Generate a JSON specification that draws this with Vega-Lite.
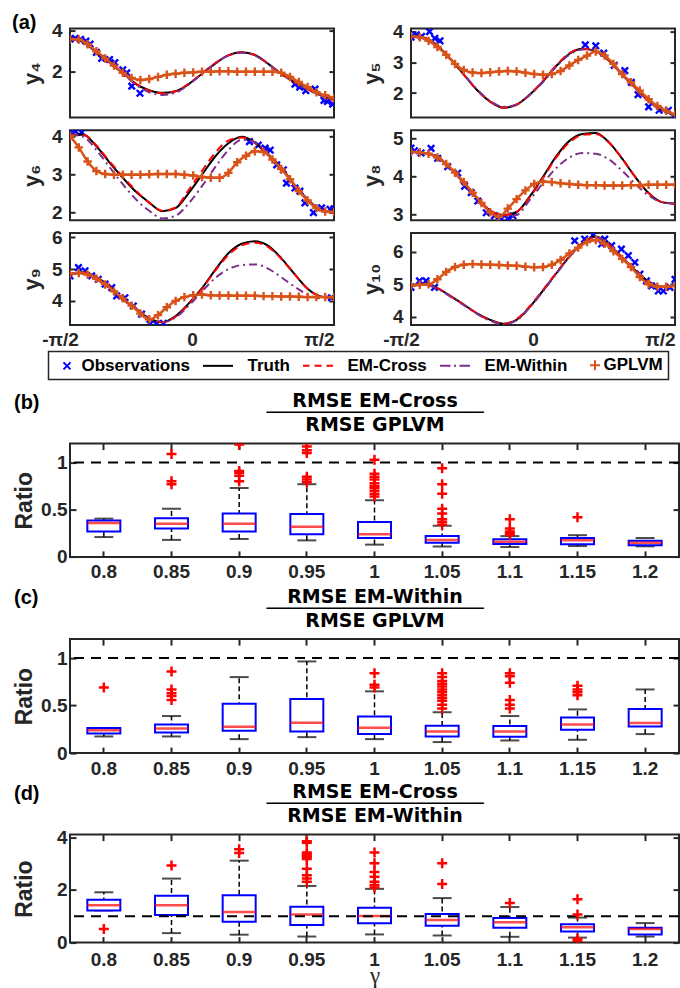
{
"$schema": "https://vega.github.io/schema/vega-lite/v6.json",
"background": "white",
"padding": {"left": 11, "top": 11.6, "right": 0, "bottom": 0},
"spacing": 40,
"vconcat": [
{"spacing": 24, "hconcat": [
 {"bounds": "flush", "spacing": 12.7, "vconcat": [
  {"width": 264, "height": 89,
   "title": {"text": "(a)", "anchor": "start", "frame": "bounds", "offset": -27, "dx": -8, "baseline": "alphabetic", "fontSize": 20},
   "layer": [
    {"data": {"name": "obs"}, "transform": [{"filter": "datum.p == 'y4'"}], "mark": {"type": "point", "shape": "M-1,-1L1,1M-1,1L1,-1", "filled": false, "color": "#0000FF", "strokeWidth": 2.4, "size": 42, "opacity": 1, "clip": true},
     "encoding": {"x": {"field": "x", "type": "quantitative", "scale": {"domain": [-1.5708, 1.5708], "nice": false, "zero": false}, "axis": null},
      "y": {"field": "v", "type": "quantitative", "scale": {"domain": [-0.24, 4.11], "nice": false, "zero": false}, "axis": {"orient": "left", "values": [2, 4], "format": "d", "title": "y₄", "tickSize": -5, "labelPadding": 13, "minExtent": 19, "maxExtent": 19, "titlePadding": 8}}}},
    {"data": {"name": "curves"}, "transform": [{"filter": "datum.p == 'y4'"}], "mark": {"type": "line", "color": "#000000", "strokeWidth": 2, "interpolate": "monotone", "clip": true},
     "encoding": {"x": {"field": "x", "type": "quantitative", "axis": null}, "y": {"field": "truth", "type": "quantitative", "axis": null}}},
    {"data": {"name": "curves"}, "transform": [{"filter": "datum.p == 'y4'"}], "mark": {"type": "line", "color": "#FF0000", "strokeWidth": 2, "strokeDash": [8, 5], "interpolate": "monotone", "clip": true},
     "encoding": {"x": {"field": "x", "type": "quantitative", "axis": null}, "y": {"field": "cross", "type": "quantitative", "axis": {"orient": "right", "values": [2, 4], "labels": false, "title": null, "tickSize": -5}}}},
    {"data": {"name": "curves"}, "transform": [{"filter": "datum.p == 'y4'"}], "mark": {"type": "line", "color": "#7E2F8E", "strokeWidth": 2, "strokeDash": [8, 4, 2, 4], "interpolate": "monotone", "clip": true},
     "encoding": {"x": {"field": "x", "type": "quantitative", "axis": null}, "y": {"field": "within", "type": "quantitative", "axis": null}}},
    {"data": {"name": "gp"}, "transform": [{"filter": "datum.p == 'y4'"}], "mark": {"type": "line", "color": "#D95319", "strokeWidth": 2.5, "interpolate": "monotone", "clip": true},
     "encoding": {"x": {"field": "x", "type": "quantitative", "axis": null}, "y": {"field": "v", "type": "quantitative", "axis": null}}},
    {"data": {"name": "gp"}, "transform": [{"filter": "datum.p == 'y4'"}], "mark": {"type": "point", "shape": "M-1,0H1M0,-1V1", "filled": false, "color": "#D95319", "strokeWidth": 2.4, "size": 72, "opacity": 1, "clip": true},
     "encoding": {"x": {"field": "x", "type": "quantitative", "axis": null}, "y": {"field": "v", "type": "quantitative", "axis": null}}}
   ],
   "resolve": {"axis": {"y": "independent"}}},
  {"width": 264, "height": 90,
   "layer": [
    {"data": {"name": "obs"}, "transform": [{"filter": "datum.p == 'y6'"}], "mark": {"type": "point", "shape": "M-1,-1L1,1M-1,1L1,-1", "filled": false, "color": "#0000FF", "strokeWidth": 2.4, "size": 42, "opacity": 1, "clip": true},
     "encoding": {"x": {"field": "x", "type": "quantitative", "scale": {"domain": [-1.5708, 1.5708], "nice": false, "zero": false}, "axis": null},
      "y": {"field": "v", "type": "quantitative", "scale": {"domain": [1.8, 4.17], "nice": false, "zero": false}, "axis": {"orient": "left", "values": [2, 3, 4], "format": "d", "title": "y₆", "tickSize": -5, "labelPadding": 13, "minExtent": 19, "maxExtent": 19, "titlePadding": 8}}}},
    {"data": {"name": "curves"}, "transform": [{"filter": "datum.p == 'y6'"}], "mark": {"type": "line", "color": "#000000", "strokeWidth": 2, "interpolate": "monotone", "clip": true},
     "encoding": {"x": {"field": "x", "type": "quantitative", "axis": null}, "y": {"field": "truth", "type": "quantitative", "axis": null}}},
    {"data": {"name": "curves"}, "transform": [{"filter": "datum.p == 'y6'"}], "mark": {"type": "line", "color": "#FF0000", "strokeWidth": 2, "strokeDash": [8, 5], "interpolate": "monotone", "clip": true},
     "encoding": {"x": {"field": "x", "type": "quantitative", "axis": null}, "y": {"field": "cross", "type": "quantitative", "axis": {"orient": "right", "values": [2, 3, 4], "labels": false, "title": null, "tickSize": -5}}}},
    {"data": {"name": "curves"}, "transform": [{"filter": "datum.p == 'y6'"}], "mark": {"type": "line", "color": "#7E2F8E", "strokeWidth": 2, "strokeDash": [8, 4, 2, 4], "interpolate": "monotone", "clip": true},
     "encoding": {"x": {"field": "x", "type": "quantitative", "axis": null}, "y": {"field": "within", "type": "quantitative", "axis": null}}},
    {"data": {"name": "gp"}, "transform": [{"filter": "datum.p == 'y6'"}], "mark": {"type": "line", "color": "#D95319", "strokeWidth": 2.5, "interpolate": "monotone", "clip": true},
     "encoding": {"x": {"field": "x", "type": "quantitative", "axis": null}, "y": {"field": "v", "type": "quantitative", "axis": null}}},
    {"data": {"name": "gp"}, "transform": [{"filter": "datum.p == 'y6'"}], "mark": {"type": "point", "shape": "M-1,0H1M0,-1V1", "filled": false, "color": "#D95319", "strokeWidth": 2.4, "size": 72, "opacity": 1, "clip": true},
     "encoding": {"x": {"field": "x", "type": "quantitative", "axis": null}, "y": {"field": "v", "type": "quantitative", "axis": null}}}
   ],
   "resolve": {"axis": {"y": "independent"}}},
  {"width": 264, "height": 92,
   "layer": [
    {"data": {"name": "obs"}, "transform": [{"filter": "datum.p == 'y9'"}], "mark": {"type": "point", "shape": "M-1,-1L1,1M-1,1L1,-1", "filled": false, "color": "#0000FF", "strokeWidth": 2.4, "size": 42, "opacity": 1, "clip": true},
     "encoding": {"x": {"field": "x", "type": "quantitative", "scale": {"domain": [-1.5708, 1.5708], "nice": false, "zero": false}, "axis": {"values": [-1.5708, 0, 1.5708], "labelExpr": "datum.value < -1 ? '-π/2' : (datum.value > 1 ? 'π/2' : '0')", "ticks": false, "labelPadding": 5.5, "labelOffset": {"condition": {"test": "datum.value > 1", "value": -15}, "value": -10}, "labelFlush": false, "title": null}},
      "y": {"field": "v", "type": "quantitative", "scale": {"domain": [3.24, 6.14], "nice": false, "zero": false}, "axis": {"orient": "left", "values": [4, 5, 6], "format": "d", "title": "y₉", "tickSize": -5, "labelPadding": 13, "minExtent": 19, "maxExtent": 19, "titlePadding": 8}}}},
    {"data": {"name": "curves"}, "transform": [{"filter": "datum.p == 'y9'"}], "mark": {"type": "line", "color": "#000000", "strokeWidth": 2, "interpolate": "monotone", "clip": true},
     "encoding": {"x": {"field": "x", "type": "quantitative"}, "y": {"field": "truth", "type": "quantitative", "axis": null}}},
    {"data": {"name": "curves"}, "transform": [{"filter": "datum.p == 'y9'"}], "mark": {"type": "line", "color": "#FF0000", "strokeWidth": 2, "strokeDash": [8, 5], "interpolate": "monotone", "clip": true},
     "encoding": {"x": {"field": "x", "type": "quantitative"}, "y": {"field": "cross", "type": "quantitative", "axis": {"orient": "right", "values": [4, 5, 6], "labels": false, "title": null, "tickSize": -5}}}},
    {"data": {"name": "curves"}, "transform": [{"filter": "datum.p == 'y9'"}], "mark": {"type": "line", "color": "#7E2F8E", "strokeWidth": 2, "strokeDash": [8, 4, 2, 4], "interpolate": "monotone", "clip": true},
     "encoding": {"x": {"field": "x", "type": "quantitative"}, "y": {"field": "within", "type": "quantitative", "axis": null}}},
    {"data": {"name": "gp"}, "transform": [{"filter": "datum.p == 'y9'"}], "mark": {"type": "line", "color": "#D95319", "strokeWidth": 2.5, "interpolate": "monotone", "clip": true},
     "encoding": {"x": {"field": "x", "type": "quantitative"}, "y": {"field": "v", "type": "quantitative", "axis": null}}},
    {"data": {"name": "gp"}, "transform": [{"filter": "datum.p == 'y9'"}], "mark": {"type": "point", "shape": "M-1,0H1M0,-1V1", "filled": false, "color": "#D95319", "strokeWidth": 2.4, "size": 72, "opacity": 1, "clip": true},
     "encoding": {"x": {"field": "x", "type": "quantitative"}, "y": {"field": "v", "type": "quantitative", "axis": null}}},
    {"data": {"name": "leg"}, "mark": {"type": "point", "opacity": 0, "filled": false},
     "encoding": {
      "color": {"field": "s", "type": "nominal", "scale": {"domain": ["Observations", "Truth", "EM-Cross", "EM-Within", "GPLVM"], "range": ["#0000FF", "#000000", "#FF0000", "#7E2F8E", "#D95319"]},
        "legend": {"orient": "none", "legendX": -21.5, "legendY": 323, "direction": "horizontal", "columns": 5, "title": null, "symbolSize": 100, "symbolStrokeWidth": 2, "symbolOpacity": 1, "labelFontSize": 17, "labelFont": "Liberation Sans", "labelFontWeight": "bold", "labelColor": "#000000", "labelOffset": 11, "columnPadding": 8, "padding": 5, "strokeColor": "#262626", "fillColor": "#ffffff"}},
      "shape": {"field": "s", "type": "nominal", "scale": {"domain": ["Observations", "Truth", "EM-Cross", "EM-Within", "GPLVM"], "range": ["M0.3,-0.7L1.7,0.7M0.3,0.7L1.7,-0.7", "M-5,0H1", "M-5,0H-3.7M-2.7,0H-1.3M-0.3,0H1", "M-5,0H-2.9M-2.2,0H-1.8M-1.1,0H1", "M1.2,0H3.2M2.2,-1V1"]},
        "legend": {"orient": "none", "legendX": -21.5, "legendY": 323, "direction": "horizontal", "columns": 5, "title": null, "symbolSize": 100, "symbolStrokeWidth": 2, "symbolOpacity": 1, "labelFontSize": 17, "labelFont": "Liberation Sans", "labelFontWeight": "bold", "labelColor": "#000000", "labelOffset": 11, "columnPadding": 8, "padding": 5, "strokeColor": "#262626", "fillColor": "#ffffff"}}
     }}
   ],
   "resolve": {"axis": {"y": "independent"}}}
 ]},
 {"bounds": "flush", "spacing": 12.7, "vconcat": [
  {"width": 264, "height": 89,
   "layer": [
    {"data": {"name": "obs"}, "transform": [{"filter": "datum.p == 'y5'"}], "mark": {"type": "point", "shape": "M-1,-1L1,1M-1,1L1,-1", "filled": false, "color": "#0000FF", "strokeWidth": 2.4, "size": 42, "opacity": 1, "clip": true},
     "encoding": {"x": {"field": "x", "type": "quantitative", "scale": {"domain": [-1.5708, 1.5708], "nice": false, "zero": false}, "axis": null},
      "y": {"field": "v", "type": "quantitative", "scale": {"domain": [1.2, 4.1], "nice": false, "zero": false}, "axis": {"orient": "left", "values": [2, 3, 4], "format": "d", "title": "y₅", "tickSize": -5, "labelPadding": 13, "minExtent": 19, "maxExtent": 19, "titlePadding": 8}}}},
    {"data": {"name": "curves"}, "transform": [{"filter": "datum.p == 'y5'"}], "mark": {"type": "line", "color": "#000000", "strokeWidth": 2, "interpolate": "monotone", "clip": true},
     "encoding": {"x": {"field": "x", "type": "quantitative", "axis": null}, "y": {"field": "truth", "type": "quantitative", "axis": null}}},
    {"data": {"name": "curves"}, "transform": [{"filter": "datum.p == 'y5'"}], "mark": {"type": "line", "color": "#FF0000", "strokeWidth": 2, "strokeDash": [8, 5], "interpolate": "monotone", "clip": true},
     "encoding": {"x": {"field": "x", "type": "quantitative", "axis": null}, "y": {"field": "cross", "type": "quantitative", "axis": {"orient": "right", "values": [2, 3, 4], "labels": false, "title": null, "tickSize": -5}}}},
    {"data": {"name": "curves"}, "transform": [{"filter": "datum.p == 'y5'"}], "mark": {"type": "line", "color": "#7E2F8E", "strokeWidth": 2, "strokeDash": [8, 4, 2, 4], "interpolate": "monotone", "clip": true},
     "encoding": {"x": {"field": "x", "type": "quantitative", "axis": null}, "y": {"field": "within", "type": "quantitative", "axis": null}}},
    {"data": {"name": "gp"}, "transform": [{"filter": "datum.p == 'y5'"}], "mark": {"type": "line", "color": "#D95319", "strokeWidth": 2.5, "interpolate": "monotone", "clip": true},
     "encoding": {"x": {"field": "x", "type": "quantitative", "axis": null}, "y": {"field": "v", "type": "quantitative", "axis": null}}},
    {"data": {"name": "gp"}, "transform": [{"filter": "datum.p == 'y5'"}], "mark": {"type": "point", "shape": "M-1,0H1M0,-1V1", "filled": false, "color": "#D95319", "strokeWidth": 2.4, "size": 72, "opacity": 1, "clip": true},
     "encoding": {"x": {"field": "x", "type": "quantitative", "axis": null}, "y": {"field": "v", "type": "quantitative", "axis": null}}}
   ],
   "resolve": {"axis": {"y": "independent"}}},
  {"width": 264, "height": 90,
   "layer": [
    {"data": {"name": "obs"}, "transform": [{"filter": "datum.p == 'y8'"}], "mark": {"type": "point", "shape": "M-1,-1L1,1M-1,1L1,-1", "filled": false, "color": "#0000FF", "strokeWidth": 2.4, "size": 42, "opacity": 1, "clip": true},
     "encoding": {"x": {"field": "x", "type": "quantitative", "scale": {"domain": [-1.5708, 1.5708], "nice": false, "zero": false}, "axis": null},
      "y": {"field": "v", "type": "quantitative", "scale": {"domain": [2.84, 5.22], "nice": false, "zero": false}, "axis": {"orient": "left", "values": [3, 4, 5], "format": "d", "title": "y₈", "tickSize": -5, "labelPadding": 13, "minExtent": 19, "maxExtent": 19, "titlePadding": 8}}}},
    {"data": {"name": "curves"}, "transform": [{"filter": "datum.p == 'y8'"}], "mark": {"type": "line", "color": "#000000", "strokeWidth": 2, "interpolate": "monotone", "clip": true},
     "encoding": {"x": {"field": "x", "type": "quantitative", "axis": null}, "y": {"field": "truth", "type": "quantitative", "axis": null}}},
    {"data": {"name": "curves"}, "transform": [{"filter": "datum.p == 'y8'"}], "mark": {"type": "line", "color": "#FF0000", "strokeWidth": 2, "strokeDash": [8, 5], "interpolate": "monotone", "clip": true},
     "encoding": {"x": {"field": "x", "type": "quantitative", "axis": null}, "y": {"field": "cross", "type": "quantitative", "axis": {"orient": "right", "values": [3, 4, 5], "labels": false, "title": null, "tickSize": -5}}}},
    {"data": {"name": "curves"}, "transform": [{"filter": "datum.p == 'y8'"}], "mark": {"type": "line", "color": "#7E2F8E", "strokeWidth": 2, "strokeDash": [8, 4, 2, 4], "interpolate": "monotone", "clip": true},
     "encoding": {"x": {"field": "x", "type": "quantitative", "axis": null}, "y": {"field": "within", "type": "quantitative", "axis": null}}},
    {"data": {"name": "gp"}, "transform": [{"filter": "datum.p == 'y8'"}], "mark": {"type": "line", "color": "#D95319", "strokeWidth": 2.5, "interpolate": "monotone", "clip": true},
     "encoding": {"x": {"field": "x", "type": "quantitative", "axis": null}, "y": {"field": "v", "type": "quantitative", "axis": null}}},
    {"data": {"name": "gp"}, "transform": [{"filter": "datum.p == 'y8'"}], "mark": {"type": "point", "shape": "M-1,0H1M0,-1V1", "filled": false, "color": "#D95319", "strokeWidth": 2.4, "size": 72, "opacity": 1, "clip": true},
     "encoding": {"x": {"field": "x", "type": "quantitative", "axis": null}, "y": {"field": "v", "type": "quantitative", "axis": null}}}
   ],
   "resolve": {"axis": {"y": "independent"}}},
  {"width": 264, "height": 92,
   "layer": [
    {"data": {"name": "obs"}, "transform": [{"filter": "datum.p == 'y10'"}], "mark": {"type": "point", "shape": "M-1,-1L1,1M-1,1L1,-1", "filled": false, "color": "#0000FF", "strokeWidth": 2.4, "size": 42, "opacity": 1, "clip": true},
     "encoding": {"x": {"field": "x", "type": "quantitative", "scale": {"domain": [-1.5708, 1.5708], "nice": false, "zero": false}, "axis": {"values": [-1.5708, 0, 1.5708], "labelExpr": "datum.value < -1 ? '-π/2' : (datum.value > 1 ? 'π/2' : '0')", "ticks": false, "labelPadding": 5.5, "labelOffset": {"condition": {"test": "datum.value > 1", "value": -15}, "value": -10}, "labelFlush": false, "title": null}},
      "y": {"field": "v", "type": "quantitative", "scale": {"domain": [3.74, 6.58], "nice": false, "zero": false}, "axis": {"orient": "left", "values": [4, 5, 6], "format": "d", "title": "y₁₀", "tickSize": -5, "labelPadding": 13, "minExtent": 19, "maxExtent": 19, "titlePadding": 8}}}},
    {"data": {"name": "curves"}, "transform": [{"filter": "datum.p == 'y10'"}], "mark": {"type": "line", "color": "#000000", "strokeWidth": 2, "interpolate": "monotone", "clip": true},
     "encoding": {"x": {"field": "x", "type": "quantitative"}, "y": {"field": "truth", "type": "quantitative", "axis": null}}},
    {"data": {"name": "curves"}, "transform": [{"filter": "datum.p == 'y10'"}], "mark": {"type": "line", "color": "#FF0000", "strokeWidth": 2, "strokeDash": [8, 5], "interpolate": "monotone", "clip": true},
     "encoding": {"x": {"field": "x", "type": "quantitative"}, "y": {"field": "cross", "type": "quantitative", "axis": {"orient": "right", "values": [4, 5, 6], "labels": false, "title": null, "tickSize": -5}}}},
    {"data": {"name": "curves"}, "transform": [{"filter": "datum.p == 'y10'"}], "mark": {"type": "line", "color": "#7E2F8E", "strokeWidth": 2, "strokeDash": [8, 4, 2, 4], "interpolate": "monotone", "clip": true},
     "encoding": {"x": {"field": "x", "type": "quantitative"}, "y": {"field": "within", "type": "quantitative", "axis": null}}},
    {"data": {"name": "gp"}, "transform": [{"filter": "datum.p == 'y10'"}], "mark": {"type": "line", "color": "#D95319", "strokeWidth": 2.5, "interpolate": "monotone", "clip": true},
     "encoding": {"x": {"field": "x", "type": "quantitative"}, "y": {"field": "v", "type": "quantitative", "axis": null}}},
    {"data": {"name": "gp"}, "transform": [{"filter": "datum.p == 'y10'"}], "mark": {"type": "point", "shape": "M-1,0H1M0,-1V1", "filled": false, "color": "#D95319", "strokeWidth": 2.4, "size": 72, "opacity": 1, "clip": true},
     "encoding": {"x": {"field": "x", "type": "quantitative"}, "y": {"field": "v", "type": "quantitative", "axis": null}}}
   ],
   "resolve": {"axis": {"y": "independent"}}}
 ]}
]},
{"bounds": "flush", "spacing": 81.5, "vconcat": [
 {"width": 609, "height": 113.3,
  "title": {"text": "(b)", "anchor": "start", "frame": "bounds", "offset": -37, "dx": 1, "baseline": "alphabetic", "fontSize": 20},
  "layer": [
   {"data": {"name": "box"}, "transform": [{"filter": "datum.panel == 'b'"}], "mark": {"type": "rule", "color": "#000000", "strokeWidth": 1.5, "strokeDash": [5, 3]},
    "encoding": {"x": {"field": "g", "type": "ordinal", "scale": {"type": "band", "domain": ["0.8", "0.85", "0.9", "0.95", "1", "1.05", "1.1", "1.15", "1.2"], "paddingInner": 0, "paddingOuter": 0}, "axis": {"orient": "bottom", "labelAngle": 0, "tickSize": -6, "labelPadding": 12, "title": null}},
     "y": {"field": "lo", "type": "quantitative", "scale": {"domain": [0, 1.2], "nice": false, "zero": false}, "axis": {"orient": "left", "values": [0, 0.5, 1], "format": "~g", "tickSize": -6, "labelPadding": 9, "title": "Ratio", "titleFontSize": 23, "minExtent": 38, "maxExtent": 38, "titlePadding": -4}},
     "y2": {"field": "hi"}}},
   {"data": {"name": "box"}, "transform": [{"filter": "datum.panel == 'b'"}], "mark": {"type": "tick", "color": "#000000", "size": 19, "thickness": 2},
    "encoding": {"x": {"field": "g", "type": "ordinal", "axis": null}, "y": {"field": "lo", "type": "quantitative", "axis": null}}},
   {"data": {"name": "box"}, "transform": [{"filter": "datum.panel == 'b'"}], "mark": {"type": "tick", "color": "#000000", "size": 19, "thickness": 2},
    "encoding": {"x": {"field": "g", "type": "ordinal", "axis": null}, "y": {"field": "hi", "type": "quantitative", "axis": null}}},
   {"data": {"name": "box"}, "transform": [{"filter": "datum.panel == 'b'"}], "mark": {"type": "bar", "fill": "#ffffff", "stroke": "#0000FF", "strokeWidth": 2, "width": 33},
    "encoding": {"x": {"field": "g", "type": "ordinal", "axis": null}, "y": {"field": "q1", "type": "quantitative", "axis": null}, "y2": {"field": "q3"}}},
   {"data": {"name": "box"}, "transform": [{"filter": "datum.panel == 'b'"}], "mark": {"type": "tick", "color": "#FF0000", "size": 33, "thickness": 2.5},
    "encoding": {"x": {"field": "g", "type": "ordinal", "axis": null}, "y": {"field": "med", "type": "quantitative", "axis": null}}},
   {"data": {"values": [{}]}, "mark": {"type": "rule", "color": "#000000", "strokeWidth": 2, "strokeDash": [10, 7]},
    "encoding": {"y": {"datum": 1, "axis": null}}},
   {"data": {"name": "out"}, "transform": [{"filter": "datum.panel == 'b'"}], "mark": {"type": "point", "shape": "M-1,0H1M0,-1V1", "filled": false, "color": "#FF0000", "strokeWidth": 2.5, "size": 100, "opacity": 1, "clip": true},
    "encoding": {"x": {"field": "g", "type": "ordinal", "axis": null}, "y": {"field": "v", "type": "quantitative", "axis": null}}},
   {"data": {"name": "box"}, "transform": [{"filter": "datum.panel == 'b'"}], "mark": {"type": "point", "opacity": 0},
    "encoding": {"x": {"field": "g", "type": "ordinal", "axis": {"orient": "top", "labels": false, "tickSize": -6, "title": ["RMSE EM-Cross", "───────────────────", "RMSE GPLVM"], "titleFont": "DejaVu Sans", "titleFontSize": 19, "titleFontWeight": "bold", "titleColor": "#000000", "titleLineHeight": 12, "titleBaseline": "bottom", "titlePadding": 8}},
     "y": {"field": "med", "type": "quantitative", "axis": {"orient": "right", "values": [0, 0.5, 1], "labels": false, "tickSize": -6, "title": null}}}}
  ],
  "resolve": {"axis": {"x": "independent", "y": "independent"}}},
 {"width": 609, "height": 114,
  "title": {"text": "(c)", "anchor": "start", "frame": "bounds", "offset": -37, "dx": 1, "baseline": "alphabetic", "fontSize": 20},
  "layer": [
   {"data": {"name": "box"}, "transform": [{"filter": "datum.panel == 'c'"}], "mark": {"type": "rule", "color": "#000000", "strokeWidth": 1.5, "strokeDash": [5, 3]},
    "encoding": {"x": {"field": "g", "type": "ordinal", "scale": {"type": "band", "domain": ["0.8", "0.85", "0.9", "0.95", "1", "1.05", "1.1", "1.15", "1.2"], "paddingInner": 0, "paddingOuter": 0}, "axis": {"orient": "bottom", "labelAngle": 0, "tickSize": -6, "labelPadding": 12, "title": null}},
     "y": {"field": "lo", "type": "quantitative", "scale": {"domain": [0, 1.2], "nice": false, "zero": false}, "axis": {"orient": "left", "values": [0, 0.5, 1], "format": "~g", "tickSize": -6, "labelPadding": 9, "title": "Ratio", "titleFontSize": 23, "minExtent": 38, "maxExtent": 38, "titlePadding": -4}},
     "y2": {"field": "hi"}}},
   {"data": {"name": "box"}, "transform": [{"filter": "datum.panel == 'c'"}], "mark": {"type": "tick", "color": "#000000", "size": 19, "thickness": 2},
    "encoding": {"x": {"field": "g", "type": "ordinal", "axis": null}, "y": {"field": "lo", "type": "quantitative", "axis": null}}},
   {"data": {"name": "box"}, "transform": [{"filter": "datum.panel == 'c'"}], "mark": {"type": "tick", "color": "#000000", "size": 19, "thickness": 2},
    "encoding": {"x": {"field": "g", "type": "ordinal", "axis": null}, "y": {"field": "hi", "type": "quantitative", "axis": null}}},
   {"data": {"name": "box"}, "transform": [{"filter": "datum.panel == 'c'"}], "mark": {"type": "bar", "fill": "#ffffff", "stroke": "#0000FF", "strokeWidth": 2, "width": 33},
    "encoding": {"x": {"field": "g", "type": "ordinal", "axis": null}, "y": {"field": "q1", "type": "quantitative", "axis": null}, "y2": {"field": "q3"}}},
   {"data": {"name": "box"}, "transform": [{"filter": "datum.panel == 'c'"}], "mark": {"type": "tick", "color": "#FF0000", "size": 33, "thickness": 2.5},
    "encoding": {"x": {"field": "g", "type": "ordinal", "axis": null}, "y": {"field": "med", "type": "quantitative", "axis": null}}},
   {"data": {"values": [{}]}, "mark": {"type": "rule", "color": "#000000", "strokeWidth": 2, "strokeDash": [10, 7]},
    "encoding": {"y": {"datum": 1, "axis": null}}},
   {"data": {"name": "out"}, "transform": [{"filter": "datum.panel == 'c'"}], "mark": {"type": "point", "shape": "M-1,0H1M0,-1V1", "filled": false, "color": "#FF0000", "strokeWidth": 2.5, "size": 100, "opacity": 1, "clip": true},
    "encoding": {"x": {"field": "g", "type": "ordinal", "axis": null}, "y": {"field": "v", "type": "quantitative", "axis": null}}},
   {"data": {"name": "box"}, "transform": [{"filter": "datum.panel == 'c'"}], "mark": {"type": "point", "opacity": 0},
    "encoding": {"x": {"field": "g", "type": "ordinal", "axis": {"orient": "top", "labels": false, "tickSize": -6, "title": ["RMSE EM-Within", "───────────────────", "RMSE GPLVM"], "titleFont": "DejaVu Sans", "titleFontSize": 19, "titleFontWeight": "bold", "titleColor": "#000000", "titleLineHeight": 12, "titleBaseline": "bottom", "titlePadding": 8}},
     "y": {"field": "med", "type": "quantitative", "axis": {"orient": "right", "values": [0, 0.5, 1], "labels": false, "tickSize": -6, "title": null}}}}
  ],
  "resolve": {"axis": {"x": "independent", "y": "independent"}}},
 {"width": 609, "height": 108,
  "title": {"text": "(d)", "anchor": "start", "frame": "bounds", "offset": -37, "dx": 1, "baseline": "alphabetic", "fontSize": 20},
  "layer": [
   {"data": {"name": "box"}, "transform": [{"filter": "datum.panel == 'd'"}], "mark": {"type": "rule", "color": "#000000", "strokeWidth": 1.5, "strokeDash": [5, 3]},
    "encoding": {"x": {"field": "g", "type": "ordinal", "scale": {"type": "band", "domain": ["0.8", "0.85", "0.9", "0.95", "1", "1.05", "1.1", "1.15", "1.2"], "paddingInner": 0, "paddingOuter": 0}, "axis": {"orient": "bottom", "labelAngle": 0, "tickSize": -6, "labelPadding": 13.5, "title": "γ", "titleFont": "Liberation Serif", "titleFontWeight": "normal", "titleFontSize": 23, "titlePadding": -5}},
     "y": {"field": "lo", "type": "quantitative", "scale": {"domain": [0, 4.1], "nice": false, "zero": false}, "axis": {"orient": "left", "values": [0, 2, 4], "format": "~g", "tickSize": -6, "labelPadding": 9, "title": "Ratio", "titleFontSize": 23, "minExtent": 38, "maxExtent": 38, "titlePadding": -4}},
     "y2": {"field": "hi"}}},
   {"data": {"name": "box"}, "transform": [{"filter": "datum.panel == 'd'"}], "mark": {"type": "tick", "color": "#000000", "size": 19, "thickness": 2},
    "encoding": {"x": {"field": "g", "type": "ordinal", "axis": null}, "y": {"field": "lo", "type": "quantitative", "axis": null}}},
   {"data": {"name": "box"}, "transform": [{"filter": "datum.panel == 'd'"}], "mark": {"type": "tick", "color": "#000000", "size": 19, "thickness": 2},
    "encoding": {"x": {"field": "g", "type": "ordinal", "axis": null}, "y": {"field": "hi", "type": "quantitative", "axis": null}}},
   {"data": {"name": "box"}, "transform": [{"filter": "datum.panel == 'd'"}], "mark": {"type": "bar", "fill": "#ffffff", "stroke": "#0000FF", "strokeWidth": 2, "width": 33},
    "encoding": {"x": {"field": "g", "type": "ordinal", "axis": null}, "y": {"field": "q1", "type": "quantitative", "axis": null}, "y2": {"field": "q3"}}},
   {"data": {"name": "box"}, "transform": [{"filter": "datum.panel == 'd'"}], "mark": {"type": "tick", "color": "#FF0000", "size": 33, "thickness": 2.5},
    "encoding": {"x": {"field": "g", "type": "ordinal", "axis": null}, "y": {"field": "med", "type": "quantitative", "axis": null}}},
   {"data": {"values": [{}]}, "mark": {"type": "rule", "color": "#000000", "strokeWidth": 2, "strokeDash": [10, 7]},
    "encoding": {"y": {"datum": 1, "axis": null}}},
   {"data": {"name": "out"}, "transform": [{"filter": "datum.panel == 'd'"}], "mark": {"type": "point", "shape": "M-1,0H1M0,-1V1", "filled": false, "color": "#FF0000", "strokeWidth": 2.5, "size": 100, "opacity": 1, "clip": true},
    "encoding": {"x": {"field": "g", "type": "ordinal", "axis": null}, "y": {"field": "v", "type": "quantitative", "axis": null}}},
   {"data": {"name": "box"}, "transform": [{"filter": "datum.panel == 'd'"}], "mark": {"type": "point", "opacity": 0},
    "encoding": {"x": {"field": "g", "type": "ordinal", "axis": {"orient": "top", "labels": false, "tickSize": -6, "title": ["RMSE EM-Cross", "───────────────────", "RMSE EM-Within"], "titleFont": "DejaVu Sans", "titleFontSize": 19, "titleFontWeight": "bold", "titleColor": "#000000", "titleLineHeight": 12, "titleBaseline": "bottom", "titlePadding": 8}},
     "y": {"field": "med", "type": "quantitative", "axis": {"orient": "right", "values": [0, 2, 4], "labels": false, "tickSize": -6, "title": null}}}}
  ],
  "resolve": {"axis": {"x": "independent", "y": "independent"}}}
]}
],
"datasets": {
"leg": [{"s": "Observations"}, {"s": "Truth"}, {"s": "EM-Cross"}, {"s": "EM-Within"}, {"s": "GPLVM"}],
"curves": [
{"p":"y4","x":-1.5708,"truth":3.62,"cross":3.6,"within":3.6},
{"p":"y4","x":-1.4137,"truth":3.45,"cross":3.45,"within":3.44},
{"p":"y4","x":-1.2566,"truth":2.95,"cross":2.97,"within":2.95},
{"p":"y4","x":-1.0996,"truth":2.45,"cross":2.45,"within":2.43},
{"p":"y4","x":-0.9425,"truth":1.95,"cross":1.95,"within":1.92},
{"p":"y4","x":-0.7854,"truth":1.4,"cross":1.42,"within":1.36},
{"p":"y4","x":-0.6283,"truth":1.1,"cross":1.08,"within":1.0},
{"p":"y4","x":-0.4712,"truth":0.97,"cross":0.95,"within":0.87},
{"p":"y4","x":-0.3142,"truth":1.05,"cross":1.05,"within":0.98},
{"p":"y4","x":-0.1571,"truth":1.4,"cross":1.42,"within":1.38},
{"p":"y4","x":0,"truth":1.9,"cross":1.92,"within":1.9},
{"p":"y4","x":0.1571,"truth":2.4,"cross":2.42,"within":2.42},
{"p":"y4","x":0.3142,"truth":2.8,"cross":2.8,"within":2.8},
{"p":"y4","x":0.4712,"truth":2.95,"cross":2.95,"within":2.93},
{"p":"y4","x":0.6283,"truth":2.82,"cross":2.82,"within":2.8},
{"p":"y4","x":0.7854,"truth":2.4,"cross":2.4,"within":2.38},
{"p":"y4","x":0.9425,"truth":1.9,"cross":1.9,"within":1.9},
{"p":"y4","x":1.0996,"truth":1.5,"cross":1.5,"within":1.5},
{"p":"y4","x":1.2566,"truth":1.15,"cross":1.15,"within":1.15},
{"p":"y4","x":1.4137,"truth":0.85,"cross":0.85,"within":0.85},
{"p":"y4","x":1.5708,"truth":0.62,"cross":0.62,"within":0.62},
{"p":"y5","x":-1.5708,"truth":3.85,"cross":3.85,"within":3.85},
{"p":"y5","x":-1.4137,"truth":3.8,"cross":3.8,"within":3.8},
{"p":"y5","x":-1.2566,"truth":3.55,"cross":3.55,"within":3.55},
{"p":"y5","x":-1.0996,"truth":3.1,"cross":3.1,"within":3.12},
{"p":"y5","x":-0.9425,"truth":2.6,"cross":2.6,"within":2.62},
{"p":"y5","x":-0.7854,"truth":2.1,"cross":2.1,"within":2.12},
{"p":"y5","x":-0.6283,"truth":1.72,"cross":1.72,"within":1.74},
{"p":"y5","x":-0.4712,"truth":1.52,"cross":1.53,"within":1.55},
{"p":"y5","x":-0.3142,"truth":1.62,"cross":1.62,"within":1.63},
{"p":"y5","x":-0.1571,"truth":1.95,"cross":1.95,"within":1.94},
{"p":"y5","x":0,"truth":2.38,"cross":2.4,"within":2.36},
{"p":"y5","x":0.1571,"truth":2.88,"cross":2.9,"within":2.86},
{"p":"y5","x":0.3142,"truth":3.28,"cross":3.3,"within":3.25},
{"p":"y5","x":0.4712,"truth":3.44,"cross":3.44,"within":3.42},
{"p":"y5","x":0.6283,"truth":3.36,"cross":3.36,"within":3.36},
{"p":"y5","x":0.7854,"truth":3.05,"cross":3.05,"within":3.05},
{"p":"y5","x":0.9425,"truth":2.6,"cross":2.6,"within":2.6},
{"p":"y5","x":1.0996,"truth":2.17,"cross":2.17,"within":2.17},
{"p":"y5","x":1.2566,"truth":1.74,"cross":1.74,"within":1.74},
{"p":"y5","x":1.4137,"truth":1.45,"cross":1.45,"within":1.45},
{"p":"y5","x":1.5708,"truth":1.28,"cross":1.28,"within":1.28},
{"p":"y6","x":-1.5708,"truth":4.05,"cross":4.05,"within":4.05},
{"p":"y6","x":-1.4137,"truth":4.05,"cross":4.05,"within":4.0},
{"p":"y6","x":-1.2566,"truth":3.75,"cross":3.77,"within":3.65},
{"p":"y6","x":-1.0996,"truth":3.32,"cross":3.35,"within":3.2},
{"p":"y6","x":-0.9425,"truth":2.92,"cross":2.95,"within":2.75},
{"p":"y6","x":-0.7854,"truth":2.55,"cross":2.58,"within":2.35},
{"p":"y6","x":-0.6283,"truth":2.27,"cross":2.26,"within":2.05},
{"p":"y6","x":-0.4712,"truth":2.04,"cross":2.05,"within":1.85},
{"p":"y6","x":-0.3142,"truth":2.12,"cross":2.14,"within":1.92},
{"p":"y6","x":-0.1571,"truth":2.52,"cross":2.6,"within":2.25},
{"p":"y6","x":0,"truth":3.0,"cross":3.1,"within":2.7},
{"p":"y6","x":0.1571,"truth":3.48,"cross":3.58,"within":3.2},
{"p":"y6","x":0.3142,"truth":3.83,"cross":3.9,"within":3.65},
{"p":"y6","x":0.4712,"truth":4.0,"cross":3.98,"within":3.92},
{"p":"y6","x":0.6283,"truth":3.85,"cross":3.84,"within":3.85},
{"p":"y6","x":0.7854,"truth":3.52,"cross":3.52,"within":3.55},
{"p":"y6","x":0.9425,"truth":3.2,"cross":3.2,"within":3.18},
{"p":"y6","x":1.0996,"truth":2.73,"cross":2.73,"within":2.75},
{"p":"y6","x":1.2566,"truth":2.35,"cross":2.35,"within":2.35},
{"p":"y6","x":1.4137,"truth":2.07,"cross":2.07,"within":2.07},
{"p":"y6","x":1.5708,"truth":2.0,"cross":2.0,"within":2.0},
{"p":"y8","x":-1.5708,"truth":4.65,"cross":4.65,"within":4.65},
{"p":"y8","x":-1.4137,"truth":4.62,"cross":4.62,"within":4.62},
{"p":"y8","x":-1.2566,"truth":4.52,"cross":4.52,"within":4.5},
{"p":"y8","x":-1.0996,"truth":4.22,"cross":4.22,"within":4.2},
{"p":"y8","x":-0.9425,"truth":3.84,"cross":3.84,"within":3.82},
{"p":"y8","x":-0.7854,"truth":3.44,"cross":3.44,"within":3.42},
{"p":"y8","x":-0.6283,"truth":3.1,"cross":3.1,"within":3.07},
{"p":"y8","x":-0.4712,"truth":2.98,"cross":2.98,"within":2.93},
{"p":"y8","x":-0.3142,"truth":3.06,"cross":3.06,"within":2.98},
{"p":"y8","x":-0.1571,"truth":3.47,"cross":3.45,"within":3.38},
{"p":"y8","x":0,"truth":3.99,"cross":3.96,"within":3.82},
{"p":"y8","x":0.1571,"truth":4.53,"cross":4.5,"within":4.22},
{"p":"y8","x":0.3142,"truth":4.94,"cross":4.9,"within":4.5},
{"p":"y8","x":0.4712,"truth":5.12,"cross":5.1,"within":4.62},
{"p":"y8","x":0.6283,"truth":5.15,"cross":5.12,"within":4.6},
{"p":"y8","x":0.7854,"truth":4.9,"cross":4.9,"within":4.45},
{"p":"y8","x":0.9425,"truth":4.47,"cross":4.47,"within":4.15},
{"p":"y8","x":1.0996,"truth":3.98,"cross":3.98,"within":3.8},
{"p":"y8","x":1.2566,"truth":3.56,"cross":3.56,"within":3.5},
{"p":"y8","x":1.4137,"truth":3.32,"cross":3.32,"within":3.32},
{"p":"y8","x":1.5708,"truth":3.28,"cross":3.28,"within":3.28},
{"p":"y9","x":-1.5708,"truth":4.82,"cross":4.82,"within":4.82},
{"p":"y9","x":-1.4137,"truth":4.9,"cross":4.9,"within":4.9},
{"p":"y9","x":-1.2566,"truth":4.75,"cross":4.75,"within":4.75},
{"p":"y9","x":-1.0996,"truth":4.45,"cross":4.45,"within":4.45},
{"p":"y9","x":-0.9425,"truth":4.05,"cross":4.05,"within":4.05},
{"p":"y9","x":-0.7854,"truth":3.75,"cross":3.75,"within":3.75},
{"p":"y9","x":-0.6283,"truth":3.45,"cross":3.45,"within":3.45},
{"p":"y9","x":-0.4712,"truth":3.33,"cross":3.33,"within":3.33},
{"p":"y9","x":-0.3142,"truth":3.52,"cross":3.5,"within":3.48},
{"p":"y9","x":-0.1571,"truth":3.92,"cross":3.9,"within":3.85},
{"p":"y9","x":0,"truth":4.4,"cross":4.38,"within":4.3},
{"p":"y9","x":0.1571,"truth":4.98,"cross":4.95,"within":4.72},
{"p":"y9","x":0.3142,"truth":5.5,"cross":5.45,"within":5.0},
{"p":"y9","x":0.4712,"truth":5.8,"cross":5.75,"within":5.13},
{"p":"y9","x":0.6283,"truth":5.88,"cross":5.83,"within":5.15},
{"p":"y9","x":0.7854,"truth":5.74,"cross":5.7,"within":5.02},
{"p":"y9","x":0.9425,"truth":5.35,"cross":5.33,"within":4.75},
{"p":"y9","x":1.0996,"truth":4.85,"cross":4.85,"within":4.45},
{"p":"y9","x":1.2566,"truth":4.38,"cross":4.38,"within":4.2},
{"p":"y9","x":1.4137,"truth":4.14,"cross":4.14,"within":4.08},
{"p":"y9","x":1.5708,"truth":4.1,"cross":4.1,"within":4.08},
{"p":"y10","x":-1.5708,"truth":4.95,"cross":4.95,"within":4.95},
{"p":"y10","x":-1.4137,"truth":5.0,"cross":5.0,"within":4.98},
{"p":"y10","x":-1.2566,"truth":4.88,"cross":4.88,"within":4.86},
{"p":"y10","x":-1.0996,"truth":4.63,"cross":4.63,"within":4.61},
{"p":"y10","x":-0.9425,"truth":4.37,"cross":4.37,"within":4.35},
{"p":"y10","x":-0.7854,"truth":4.1,"cross":4.1,"within":4.08},
{"p":"y10","x":-0.6283,"truth":3.9,"cross":3.88,"within":3.87},
{"p":"y10","x":-0.4712,"truth":3.78,"cross":3.78,"within":3.76},
{"p":"y10","x":-0.3142,"truth":3.9,"cross":3.92,"within":3.88},
{"p":"y10","x":-0.1571,"truth":4.3,"cross":4.32,"within":4.28},
{"p":"y10","x":0,"truth":4.8,"cross":4.82,"within":4.78},
{"p":"y10","x":0.1571,"truth":5.33,"cross":5.35,"within":5.32},
{"p":"y10","x":0.3142,"truth":5.85,"cross":5.86,"within":5.84},
{"p":"y10","x":0.4712,"truth":6.27,"cross":6.27,"within":6.25},
{"p":"y10","x":0.6283,"truth":6.47,"cross":6.45,"within":6.45},
{"p":"y10","x":0.7854,"truth":6.22,"cross":6.22,"within":6.22},
{"p":"y10","x":0.9425,"truth":5.82,"cross":5.82,"within":5.82},
{"p":"y10","x":1.0996,"truth":5.42,"cross":5.42,"within":5.42},
{"p":"y10","x":1.2566,"truth":5.08,"cross":5.08,"within":5.08},
{"p":"y10","x":1.4137,"truth":4.92,"cross":4.92,"within":4.92},
{"p":"y10","x":1.5708,"truth":4.95,"cross":4.95,"within":4.95}
],
"gp": [
{"p":"y4","x":-1.5708,"v":3.6},{"p":"y4","x":-1.4661,"v":3.58},{"p":"y4","x":-1.3614,"v":3.35},{"p":"y4","x":-1.2566,"v":3.0},{"p":"y4","x":-1.1519,"v":2.65},{"p":"y4","x":-1.0472,"v":2.3},{"p":"y4","x":-0.9425,"v":1.95},{"p":"y4","x":-0.8378,"v":1.7},{"p":"y4","x":-0.733,"v":1.6},{"p":"y4","x":-0.6283,"v":1.65},{"p":"y4","x":-0.5236,"v":1.75},{"p":"y4","x":-0.4189,"v":1.85},{"p":"y4","x":-0.3142,"v":1.9},{"p":"y4","x":-0.2094,"v":1.95},{"p":"y4","x":-0.1047,"v":1.97},{"p":"y4","x":0,"v":2.0},{"p":"y4","x":0.1047,"v":2.0},{"p":"y4","x":0.2094,"v":2.02},{"p":"y4","x":0.3142,"v":2.02},{"p":"y4","x":0.4189,"v":2.0},{"p":"y4","x":0.5236,"v":2.0},{"p":"y4","x":0.6283,"v":2.0},{"p":"y4","x":0.733,"v":2.0},{"p":"y4","x":0.8378,"v":2.0},{"p":"y4","x":0.9425,"v":1.95},{"p":"y4","x":1.0472,"v":1.75},{"p":"y4","x":1.1519,"v":1.5},{"p":"y4","x":1.2566,"v":1.25},{"p":"y4","x":1.3614,"v":1.0},{"p":"y4","x":1.4661,"v":0.85},{"p":"y4","x":1.5708,"v":0.72},
{"p":"y5","x":-1.5708,"v":3.85},{"p":"y5","x":-1.4661,"v":3.82},{"p":"y5","x":-1.3614,"v":3.7},{"p":"y5","x":-1.2566,"v":3.5},{"p":"y5","x":-1.1519,"v":3.25},{"p":"y5","x":-1.0472,"v":2.95},{"p":"y5","x":-0.9425,"v":2.75},{"p":"y5","x":-0.8378,"v":2.67},{"p":"y5","x":-0.733,"v":2.65},{"p":"y5","x":-0.6283,"v":2.68},{"p":"y5","x":-0.5236,"v":2.7},{"p":"y5","x":-0.4189,"v":2.72},{"p":"y5","x":-0.3142,"v":2.7},{"p":"y5","x":-0.2094,"v":2.66},{"p":"y5","x":-0.1047,"v":2.62},{"p":"y5","x":0,"v":2.6},{"p":"y5","x":0.1047,"v":2.62},{"p":"y5","x":0.2094,"v":2.72},{"p":"y5","x":0.3142,"v":2.9},{"p":"y5","x":0.4189,"v":3.08},{"p":"y5","x":0.5236,"v":3.22},{"p":"y5","x":0.6283,"v":3.35},{"p":"y5","x":0.733,"v":3.22},{"p":"y5","x":0.8378,"v":2.95},{"p":"y5","x":0.9425,"v":2.62},{"p":"y5","x":1.0472,"v":2.35},{"p":"y5","x":1.1519,"v":2.08},{"p":"y5","x":1.2566,"v":1.8},{"p":"y5","x":1.3614,"v":1.58},{"p":"y5","x":1.4661,"v":1.42},{"p":"y5","x":1.5708,"v":1.3},
{"p":"y6","x":-1.5708,"v":4.02},{"p":"y6","x":-1.4661,"v":3.72},{"p":"y6","x":-1.3614,"v":3.35},{"p":"y6","x":-1.2566,"v":3.1},{"p":"y6","x":-1.1519,"v":3.02},{"p":"y6","x":-1.0472,"v":3.0},{"p":"y6","x":-0.9425,"v":3.0},{"p":"y6","x":-0.8378,"v":3.0},{"p":"y6","x":-0.733,"v":3.0},{"p":"y6","x":-0.6283,"v":3.01},{"p":"y6","x":-0.5236,"v":3.02},{"p":"y6","x":-0.4189,"v":3.02},{"p":"y6","x":-0.3142,"v":3.02},{"p":"y6","x":-0.2094,"v":3.0},{"p":"y6","x":-0.1047,"v":2.98},{"p":"y6","x":0,"v":2.94},{"p":"y6","x":0.1047,"v":2.92},{"p":"y6","x":0.2094,"v":2.92},{"p":"y6","x":0.3142,"v":3.05},{"p":"y6","x":0.4189,"v":3.33},{"p":"y6","x":0.5236,"v":3.5},{"p":"y6","x":0.6283,"v":3.62},{"p":"y6","x":0.733,"v":3.6},{"p":"y6","x":0.8378,"v":3.4},{"p":"y6","x":0.9425,"v":3.15},{"p":"y6","x":1.0472,"v":2.88},{"p":"y6","x":1.1519,"v":2.57},{"p":"y6","x":1.2566,"v":2.32},{"p":"y6","x":1.3614,"v":2.12},{"p":"y6","x":1.4661,"v":2.03},{"p":"y6","x":1.5708,"v":2.02},
{"p":"y8","x":-1.5708,"v":4.65},{"p":"y8","x":-1.4661,"v":4.63},{"p":"y8","x":-1.3614,"v":4.6},{"p":"y8","x":-1.2566,"v":4.5},{"p":"y8","x":-1.1519,"v":4.33},{"p":"y8","x":-1.0472,"v":4.1},{"p":"y8","x":-0.9425,"v":3.85},{"p":"y8","x":-0.8378,"v":3.57},{"p":"y8","x":-0.733,"v":3.3},{"p":"y8","x":-0.6283,"v":3.05},{"p":"y8","x":-0.5236,"v":2.93},{"p":"y8","x":-0.4189,"v":3.15},{"p":"y8","x":-0.3142,"v":3.4},{"p":"y8","x":-0.2094,"v":3.63},{"p":"y8","x":-0.1047,"v":3.8},{"p":"y8","x":0,"v":3.86},{"p":"y8","x":0.1047,"v":3.85},{"p":"y8","x":0.2094,"v":3.82},{"p":"y8","x":0.3142,"v":3.8},{"p":"y8","x":0.4189,"v":3.78},{"p":"y8","x":0.5236,"v":3.77},{"p":"y8","x":0.6283,"v":3.77},{"p":"y8","x":0.733,"v":3.76},{"p":"y8","x":0.8378,"v":3.76},{"p":"y8","x":0.9425,"v":3.76},{"p":"y8","x":1.0472,"v":3.77},{"p":"y8","x":1.1519,"v":3.77},{"p":"y8","x":1.2566,"v":3.78},{"p":"y8","x":1.3614,"v":3.78},{"p":"y8","x":1.4661,"v":3.78},{"p":"y8","x":1.5708,"v":3.78},
{"p":"y9","x":-1.5708,"v":4.85},{"p":"y9","x":-1.4661,"v":4.88},{"p":"y9","x":-1.3614,"v":4.83},{"p":"y9","x":-1.2566,"v":4.7},{"p":"y9","x":-1.1519,"v":4.52},{"p":"y9","x":-1.0472,"v":4.3},{"p":"y9","x":-0.9425,"v":4.08},{"p":"y9","x":-0.8378,"v":3.85},{"p":"y9","x":-0.733,"v":3.6},{"p":"y9","x":-0.6283,"v":3.42},{"p":"y9","x":-0.5236,"v":3.55},{"p":"y9","x":-0.4189,"v":3.8},{"p":"y9","x":-0.3142,"v":4.0},{"p":"y9","x":-0.2094,"v":4.12},{"p":"y9","x":-0.1047,"v":4.18},{"p":"y9","x":0,"v":4.2},{"p":"y9","x":0.1047,"v":4.18},{"p":"y9","x":0.2094,"v":4.17},{"p":"y9","x":0.3142,"v":4.17},{"p":"y9","x":0.4189,"v":4.16},{"p":"y9","x":0.5236,"v":4.16},{"p":"y9","x":0.6283,"v":4.16},{"p":"y9","x":0.733,"v":4.15},{"p":"y9","x":0.8378,"v":4.15},{"p":"y9","x":0.9425,"v":4.14},{"p":"y9","x":1.0472,"v":4.14},{"p":"y9","x":1.1519,"v":4.13},{"p":"y9","x":1.2566,"v":4.12},{"p":"y9","x":1.3614,"v":4.12},{"p":"y9","x":1.4661,"v":4.12},{"p":"y9","x":1.5708,"v":4.12},
{"p":"y10","x":-1.5708,"v":4.95},{"p":"y10","x":-1.4661,"v":4.98},{"p":"y10","x":-1.3614,"v":5.0},{"p":"y10","x":-1.2566,"v":5.15},{"p":"y10","x":-1.1519,"v":5.38},{"p":"y10","x":-1.0472,"v":5.53},{"p":"y10","x":-0.9425,"v":5.6},{"p":"y10","x":-0.8378,"v":5.62},{"p":"y10","x":-0.733,"v":5.61},{"p":"y10","x":-0.6283,"v":5.6},{"p":"y10","x":-0.5236,"v":5.59},{"p":"y10","x":-0.4189,"v":5.58},{"p":"y10","x":-0.3142,"v":5.57},{"p":"y10","x":-0.2094,"v":5.54},{"p":"y10","x":-0.1047,"v":5.52},{"p":"y10","x":0,"v":5.53},{"p":"y10","x":0.1047,"v":5.6},{"p":"y10","x":0.2094,"v":5.75},{"p":"y10","x":0.3142,"v":5.95},{"p":"y10","x":0.4189,"v":6.13},{"p":"y10","x":0.5236,"v":6.3},{"p":"y10","x":0.6283,"v":6.36},{"p":"y10","x":0.733,"v":6.25},{"p":"y10","x":0.8378,"v":6.02},{"p":"y10","x":0.9425,"v":5.78},{"p":"y10","x":1.0472,"v":5.53},{"p":"y10","x":1.1519,"v":5.22},{"p":"y10","x":1.2566,"v":5.0},{"p":"y10","x":1.3614,"v":4.92},{"p":"y10","x":1.4661,"v":4.92},{"p":"y10","x":1.5708,"v":4.95}
],
"obs": [
{"p":"y4","x":-1.5708,"v":3.6},{"p":"y4","x":-1.508,"v":3.63},{"p":"y4","x":-1.445,"v":3.58},{"p":"y4","x":-1.382,"v":3.5},{"p":"y4","x":-1.332,"v":3.35},{"p":"y4","x":-1.257,"v":2.95},{"p":"y4","x":-1.194,"v":2.65},{"p":"y4","x":-1.1,"v":2.6},{"p":"y4","x":-1.037,"v":2.45},{"p":"y4","x":-0.942,"v":2.1},{"p":"y4","x":-0.896,"v":1.95},{"p":"y4","x":-0.836,"v":1.3},{"p":"y4","x":-0.738,"v":0.95},{"p":"y4","x":1.106,"v":1.4},{"p":"y4","x":1.162,"v":1.25},{"p":"y4","x":1.235,"v":1.08},{"p":"y4","x":1.345,"v":1.15},{"p":"y4","x":1.451,"v":0.6},{"p":"y4","x":1.492,"v":0.55},{"p":"y4","x":1.555,"v":0.42},
{"p":"y5","x":-1.5708,"v":3.82},{"p":"y5","x":-1.508,"v":3.9},{"p":"y5","x":-1.445,"v":3.85},{"p":"y5","x":-1.351,"v":4.0},{"p":"y5","x":-1.288,"v":3.78},{"p":"y5","x":-1.226,"v":3.7},{"p":"y5","x":0.503,"v":3.57},{"p":"y5","x":0.628,"v":3.54},{"p":"y5","x":0.723,"v":3.3},{"p":"y5","x":0.848,"v":2.9},{"p":"y5","x":0.974,"v":2.73},{"p":"y5","x":1.052,"v":2.35},{"p":"y5","x":1.131,"v":1.95},{"p":"y5","x":1.257,"v":1.55},{"p":"y5","x":1.382,"v":1.44},{"p":"y5","x":1.492,"v":1.44},{"p":"y5","x":1.555,"v":1.23},
{"p":"y6","x":-1.5708,"v":4.1},{"p":"y6","x":-1.508,"v":4.15},{"p":"y6","x":-1.432,"v":4.12},{"p":"y6","x":0.565,"v":3.87},{"p":"y6","x":0.669,"v":3.78},{"p":"y6","x":0.751,"v":3.7},{"p":"y6","x":0.811,"v":3.65},{"p":"y6","x":0.889,"v":3.26},{"p":"y6","x":0.968,"v":3.13},{"p":"y6","x":1.005,"v":2.78},{"p":"y6","x":1.106,"v":2.65},{"p":"y6","x":1.165,"v":2.57},{"p":"y6","x":1.225,"v":2.26},{"p":"y6","x":1.326,"v":2.0},{"p":"y6","x":1.423,"v":2.13},{"p":"y6","x":1.524,"v":2.09},{"p":"y6","x":1.5708,"v":2.1},
{"p":"y8","x":-1.5708,"v":4.75},{"p":"y8","x":-1.53,"v":4.68},{"p":"y8","x":-1.451,"v":4.62},{"p":"y8","x":-1.332,"v":4.74},{"p":"y8","x":-1.253,"v":4.48},{"p":"y8","x":-1.134,"v":4.26},{"p":"y8","x":-1.015,"v":4.09},{"p":"y8","x":-0.933,"v":3.74},{"p":"y8","x":-0.854,"v":3.57},{"p":"y8","x":-0.776,"v":3.35},{"p":"y8","x":-0.675,"v":3.04},{"p":"y8","x":-0.578,"v":2.96},{"p":"y8","x":-0.496,"v":2.88},{"p":"y8","x":-0.418,"v":2.88},{"p":"y8","x":-0.358,"v":2.96},
{"p":"y9","x":-1.5708,"v":4.79},{"p":"y9","x":-1.47,"v":5.05},{"p":"y9","x":-1.392,"v":4.95},{"p":"y9","x":-1.313,"v":4.79},{"p":"y9","x":-1.235,"v":4.68},{"p":"y9","x":-1.153,"v":4.53},{"p":"y9","x":-1.074,"v":4.42},{"p":"y9","x":-1.015,"v":4.16},{"p":"y9","x":-0.917,"v":4.1},{"p":"y9","x":-0.817,"v":3.84},{"p":"y9","x":-0.719,"v":3.58},{"p":"y9","x":-0.619,"v":3.27},{"p":"y9","x":-0.54,"v":3.27},{"p":"y9","x":-0.459,"v":3.29},{"p":"y9","x":1.54,"v":4.1},
{"p":"y10","x":-1.5708,"v":4.9},{"p":"y10","x":-1.47,"v":5.1},{"p":"y10","x":-1.392,"v":5.1},{"p":"y10","x":-1.291,"v":4.9},{"p":"y10","x":0.377,"v":6.34},{"p":"y10","x":0.496,"v":6.39},{"p":"y10","x":0.597,"v":6.52},{"p":"y10","x":0.697,"v":6.24},{"p":"y10","x":0.735,"v":6.39},{"p":"y10","x":0.817,"v":6.19},{"p":"y10","x":0.933,"v":6.08},{"p":"y10","x":1.015,"v":5.88},{"p":"y10","x":1.093,"v":5.67},{"p":"y10","x":1.153,"v":5.31},{"p":"y10","x":1.231,"v":5.1},{"p":"y10","x":1.291,"v":4.95},{"p":"y10","x":1.373,"v":4.79},{"p":"y10","x":1.432,"v":4.79},{"p":"y10","x":1.511,"v":4.9},{"p":"y10","x":1.5708,"v":5.15}
],
"box": [
{"panel":"b","g":"0.8","lo":0.21,"q1":0.27,"med":0.36,"q3":0.385,"hi":0.405},
{"panel":"b","g":"0.85","lo":0.18,"q1":0.3,"med":0.35,"q3":0.41,"hi":0.51},
{"panel":"b","g":"0.9","lo":0.19,"q1":0.27,"med":0.35,"q3":0.46,"hi":0.73},
{"panel":"b","g":"0.95","lo":0.175,"q1":0.24,"med":0.32,"q3":0.455,"hi":0.77},
{"panel":"b","g":"1","lo":0.13,"q1":0.2,"med":0.24,"q3":0.37,"hi":0.6},
{"panel":"b","g":"1.05","lo":0.11,"q1":0.15,"med":0.18,"q3":0.22,"hi":0.33},
{"panel":"b","g":"1.1","lo":0.105,"q1":0.137,"med":0.16,"q3":0.186,"hi":0.22},
{"panel":"b","g":"1.15","lo":0.115,"q1":0.133,"med":0.175,"q3":0.2,"hi":0.23},
{"panel":"b","g":"1.2","lo":0.112,"q1":0.123,"med":0.15,"q3":0.172,"hi":0.2},
{"panel":"c","g":"0.8","lo":0.175,"q1":0.207,"med":0.24,"q3":0.263,"hi":0.263},
{"panel":"c","g":"0.85","lo":0.175,"q1":0.218,"med":0.26,"q3":0.3,"hi":0.39},
{"panel":"c","g":"0.9","lo":0.147,"q1":0.235,"med":0.277,"q3":0.52,"hi":0.8},
{"panel":"c","g":"0.95","lo":0.168,"q1":0.228,"med":0.32,"q3":0.57,"hi":0.965},
{"panel":"c","g":"1","lo":0.147,"q1":0.2,"med":0.267,"q3":0.386,"hi":0.65},
{"panel":"c","g":"1.05","lo":0.116,"q1":0.175,"med":0.228,"q3":0.288,"hi":0.43},
{"panel":"c","g":"1.1","lo":0.133,"q1":0.172,"med":0.228,"q3":0.284,"hi":0.39},
{"panel":"c","g":"1.15","lo":0.14,"q1":0.245,"med":0.3,"q3":0.375,"hi":0.46},
{"panel":"c","g":"1.2","lo":0.2,"q1":0.28,"med":0.316,"q3":0.463,"hi":0.67},
{"panel":"d","g":"0.8","lo":1.22,"q1":1.22,"med":1.42,"q3":1.63,"hi":1.91},
{"panel":"d","g":"0.85","lo":0.36,"q1":1.05,"med":1.42,"q3":1.78,"hi":2.43},
{"panel":"d","g":"0.9","lo":0.3,"q1":0.79,"med":1.16,"q3":1.8,"hi":3.11},
{"panel":"d","g":"0.95","lo":0.23,"q1":0.67,"med":1.07,"q3":1.36,"hi":2.15},
{"panel":"d","g":"1","lo":0.31,"q1":0.73,"med":1.01,"q3":1.32,"hi":2.04},
{"panel":"d","g":"1.05","lo":0.27,"q1":0.64,"med":0.86,"q3":1.09,"hi":1.69},
{"panel":"d","g":"1.1","lo":0.22,"q1":0.56,"med":0.77,"q3":0.93,"hi":1.35},
{"panel":"d","g":"1.15","lo":0.19,"q1":0.42,"med":0.58,"q3":0.7,"hi":0.95},
{"panel":"d","g":"1.2","lo":0.23,"q1":0.31,"med":0.52,"q3":0.56,"hi":0.74}
],
"out": [
{"panel":"b","g":"0.85","v":1.09},{"panel":"b","g":"0.85","v":0.8},{"panel":"b","g":"0.85","v":0.77},
{"panel":"b","g":"0.9","v":1.19},{"panel":"b","g":"0.9","v":0.91},{"panel":"b","g":"0.9","v":0.89},{"panel":"b","g":"0.9","v":0.86},{"panel":"b","g":"0.9","v":0.8},
{"panel":"b","g":"0.95","v":1.17},{"panel":"b","g":"0.95","v":1.13},{"panel":"b","g":"0.95","v":1.1},{"panel":"b","g":"0.95","v":0.85},{"panel":"b","g":"0.95","v":0.82},{"panel":"b","g":"0.95","v":0.79},
{"panel":"b","g":"1","v":1.03},{"panel":"b","g":"1","v":0.88},{"panel":"b","g":"1","v":0.85},{"panel":"b","g":"1","v":0.82},{"panel":"b","g":"1","v":0.78},{"panel":"b","g":"1","v":0.75},{"panel":"b","g":"1","v":0.73},{"panel":"b","g":"1","v":0.7},{"panel":"b","g":"1","v":0.67},{"panel":"b","g":"1","v":0.64},
{"panel":"b","g":"1.05","v":0.94},{"panel":"b","g":"1.05","v":0.77},{"panel":"b","g":"1.05","v":0.67},{"panel":"b","g":"1.05","v":0.51},{"panel":"b","g":"1.05","v":0.46},{"panel":"b","g":"1.05","v":0.4},{"panel":"b","g":"1.05","v":0.37},{"panel":"b","g":"1.05","v":0.34},
{"panel":"b","g":"1.1","v":0.4},{"panel":"b","g":"1.1","v":0.3},{"panel":"b","g":"1.1","v":0.27},{"panel":"b","g":"1.1","v":0.25},{"panel":"b","g":"1.1","v":0.235},
{"panel":"b","g":"1.15","v":0.42},
{"panel":"c","g":"0.8","v":0.69},
{"panel":"c","g":"0.85","v":0.86},{"panel":"c","g":"0.85","v":0.67},{"panel":"c","g":"0.85","v":0.63},{"panel":"c","g":"0.85","v":0.6},{"panel":"c","g":"0.85","v":0.56},
{"panel":"c","g":"1","v":0.84},{"panel":"c","g":"1","v":0.72},{"panel":"c","g":"1","v":0.69},
{"panel":"c","g":"1.05","v":0.84},{"panel":"c","g":"1.05","v":0.8},{"panel":"c","g":"1.05","v":0.76},{"panel":"c","g":"1.05","v":0.73},{"panel":"c","g":"1.05","v":0.7},{"panel":"c","g":"1.05","v":0.67},{"panel":"c","g":"1.05","v":0.64},{"panel":"c","g":"1.05","v":0.61},{"panel":"c","g":"1.05","v":0.58},{"panel":"c","g":"1.05","v":0.55},{"panel":"c","g":"1.05","v":0.51},{"panel":"c","g":"1.05","v":0.47},
{"panel":"c","g":"1.1","v":0.84},{"panel":"c","g":"1.1","v":0.81},{"panel":"c","g":"1.1","v":0.74},{"panel":"c","g":"1.1","v":0.56},{"panel":"c","g":"1.1","v":0.51},{"panel":"c","g":"1.1","v":0.47},
{"panel":"c","g":"1.15","v":0.71},{"panel":"c","g":"1.15","v":0.67},{"panel":"c","g":"1.15","v":0.64},{"panel":"c","g":"1.15","v":0.61},
{"panel":"d","g":"0.8","v":0.52},
{"panel":"d","g":"0.85","v":2.93},
{"panel":"d","g":"0.9","v":3.54},{"panel":"d","g":"0.9","v":3.4},
{"panel":"d","g":"0.95","v":3.85},{"panel":"d","g":"0.95","v":3.79},{"panel":"d","g":"0.95","v":3.42},{"panel":"d","g":"0.95","v":3.35},{"panel":"d","g":"0.95","v":3.3},{"panel":"d","g":"0.95","v":3.25},{"panel":"d","g":"0.95","v":3.17},{"panel":"d","g":"0.95","v":2.8},{"panel":"d","g":"0.95","v":2.56},{"panel":"d","g":"0.95","v":2.43},{"panel":"d","g":"0.95","v":2.31},
{"panel":"d","g":"1","v":3.42},{"panel":"d","g":"1","v":3.01},{"panel":"d","g":"1","v":2.68},{"panel":"d","g":"1","v":2.5},{"panel":"d","g":"1","v":2.31},{"panel":"d","g":"1","v":2.19},{"panel":"d","g":"1","v":2.09},
{"panel":"d","g":"1.05","v":3.01},{"panel":"d","g":"1.05","v":2.22},
{"panel":"d","g":"1.1","v":1.5},
{"panel":"d","g":"1.15","v":1.65},{"panel":"d","g":"1.15","v":1.07},{"panel":"d","g":"1.15","v":0.15},{"panel":"d","g":"1.15","v":0.06}
]
},
"config": {
 "font": "Liberation Sans",
 "view": {"stroke": "#262626", "strokeWidth": 2},
 "axis": {"domain": false, "grid": false, "labelFont": "Liberation Sans", "labelFontWeight": "bold", "labelFontSize": 19, "labelColor": "#262626", "tickColor": "#262626", "tickWidth": 2, "titleFont": "Liberation Sans", "titleFontWeight": "bold", "titleFontSize": 22, "titleColor": "#262626"},
 "title": {"font": "Liberation Sans", "fontWeight": "bold", "fontSize": 20, "color": "#000000"},
 "legend": {"strokeWidth": 1.5}
}
}
